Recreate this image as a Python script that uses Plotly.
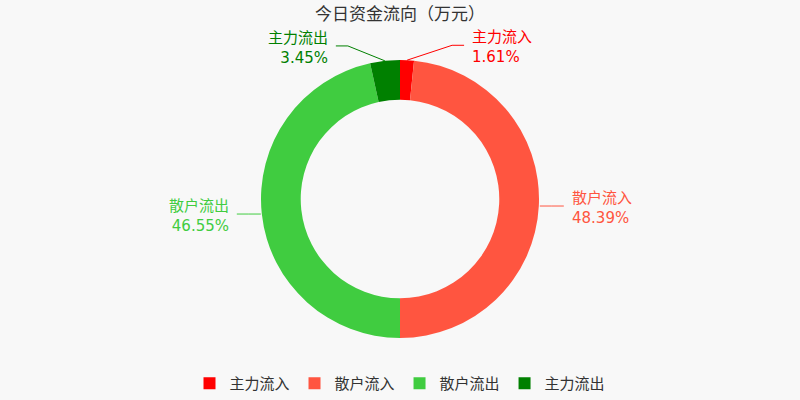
import numpy as np
import plotly.graph_objects as go

labels = ['主力流入', '散户流入', '散户流出', '主力流出']
values = [1.61, 48.39, 46.55, 3.45]
colors = ['#ff0000', '#ff5540', '#40cc40', '#008000']

# leader line elbow offsets (px) from the slice edge, like echarts label layout
elbow = [(45, -15), (12, 0), (-12, 0), (-37, -15)]

W, H = 800, 400
top, bottom = 60, 60
cx, cy, R = 400, 200, 140


def to_paper(px, py):
    return px / W, (H - bottom - py) / (H - top - bottom)


fig = go.Figure(go.Pie(
    labels=labels, values=values, hole=100 / 140,
    sort=False, direction='clockwise', rotation=0,
    marker=dict(colors=colors, line=dict(width=0)),
    textinfo='none', hoverinfo='label+percent',
))

vals = np.array(values)
pct = vals / vals.sum() * 100
mid = (np.cumsum(vals) - vals / 2) / vals.sum() * 2 * np.pi

shapes = []
annotations = []
for i, lab in enumerate(labels):
    ex = cx + R * np.sin(mid[i])
    ey = cy - R * np.cos(mid[i])
    bx, by = ex + elbow[i][0], ey + elbow[i][1]
    side = 1 if np.sin(mid[i]) > 0 else -1
    hx = bx + 12 * side
    pts = [to_paper(ex, ey), to_paper(bx, by), to_paper(hx, by)]
    path = 'M {} {} L {} {} L {} {}'.format(*[c for p in pts for c in p])
    shapes.append(dict(type='path', xref='paper', yref='paper', path=path,
                       line=dict(color=colors[i], width=1)))
    tx, ty = to_paper(hx + 6 * side, by + 2)
    annotations.append(dict(
        x=tx, y=ty, xref='paper', yref='paper', showarrow=False,
        text='{}<br>{:.2f}%'.format(lab, pct[i]),
        xanchor='left' if side > 0 else 'right',
        align='left' if side > 0 else 'right',
        yanchor='middle',
        font=dict(size=15, color=colors[i]),
    ))

fig.update_layout(
    width=W, height=H,
    margin=dict(l=0, r=0, t=top, b=bottom),
    paper_bgcolor='#f8f8f8', plot_bgcolor='#f8f8f8',
    font=dict(family='DejaVu Sans, Noto Sans CJK SC', color='#333333'),
    title=dict(text='今日资金流向（万元）', x=0.5, xanchor='center',
               y=1 - 14 / H, yanchor='middle',
               font=dict(size=17, color='#333333',
                         family='Noto Sans CJK SC')),
    shapes=shapes,
    annotations=annotations,
    legend=dict(orientation='h', x=0.5, xanchor='center',
                y=to_paper(0, 386)[1], yanchor='middle',
                font=dict(size=15, color='#333333'),
                bgcolor='rgba(0,0,0,0)'),
)

# drop the default page margin so the chart sits at the window corner
fig.write_html('out.html', config={'displayModeBar': False},
               post_script="document.body.style.margin='0';")
